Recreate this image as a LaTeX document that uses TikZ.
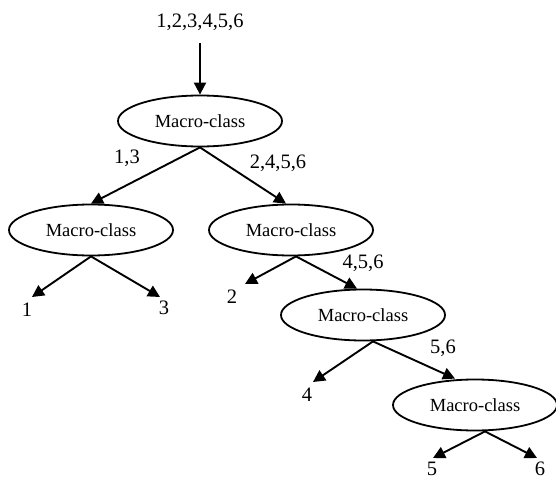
\documentclass[tikz,border=0pt]{standalone}
\usepackage{fontspec}
\setmainfont{Liberation Serif}
\usetikzlibrary{shapes.geometric,arrows.meta,calc}
\begin{document}
\begin{tikzpicture}[x=1pt,y=-1pt,
  mc/.style={draw,ellipse,line width=1.8pt,inner sep=0pt,minimum width=164pt,minimum height=51pt,font=\fontsize{18.5}{20}\selectfont},
  lbl/.style={inner sep=0pt,font=\fontsize{20.5}{22}\selectfont},
  arr/.style={line width=1.9pt,-{Triangle[length=12pt,width=12pt]}}]
\useasboundingbox (0,0) rectangle (556,481);
% ellipses
\node[mc] (e1) at (200,121) {Macro-class};
\node[mc] (e2) at (91,230) {Macro-class};
\node[mc] (e3) at (291,230) {Macro-class};
\node[mc] (e4) at (363,315) {Macro-class};
\node[mc] (e5) at (475,405) {Macro-class};
% labels
\node[lbl] (top) at (200,22) {1,2,3,4,5,6};
\node[lbl] (l13) at (127,158) {1,3};
\node[lbl] (l2456) at (278,163) {2,4,5,6};
\node[lbl] (n1) at (27,310) {1};
\node[lbl] (n3) at (164,308) {3};
\node[lbl] (n2) at (232,297) {2};
\node[lbl] (l456) at (363,263) {4,5,6};
\node[lbl] (n4) at (307,395) {4};
\node[lbl] (l56) at (443,348) {5,6};
\node[lbl] (n5) at (432,469) {5};
\node[lbl] (n6) at (540,469) {6};
% arrow tips
\coordinate (t1) at (32,297);
\coordinate (t3) at (160,297);
\coordinate (t2) at (245,284);
\coordinate (t4) at (313,382);
\coordinate (t5) at (433,458);
\coordinate (t6) at (537,458);
\coordinate (s3) at ($(e3.south)+(5,0)$);
\coordinate (s4) at ($(e4.south)+(10,0)$);
\coordinate (s5) at ($(e5.south)+(10,0)$);
\coordinate (in3) at ($(e3.north)+(-5,0)$);
\coordinate (in4) at ($(e4.north)+(-6,0)$);
\coordinate (in5) at ($(e5.north)+(-20,0)$);
% connectors
\draw[arr,shorten <=12pt] (top.south) -- (e1.north);
\draw[arr] (e1.south) -- (e2.north);
\draw[arr] (e1.south) -- (in3);
\draw[arr] (e2.south) -- (t1);
\draw[arr] (e2.south) -- (t3);
\draw[arr] (s3) -- (t2);
\draw[arr] (s3) -- (in4);
\draw[arr] (s4) -- (t4);
\draw[arr] (s4) -- (in5);
\draw[arr] (s5) -- (t5);
\draw[arr] (s5) -- (t6);
\end{tikzpicture}
\end{document}
